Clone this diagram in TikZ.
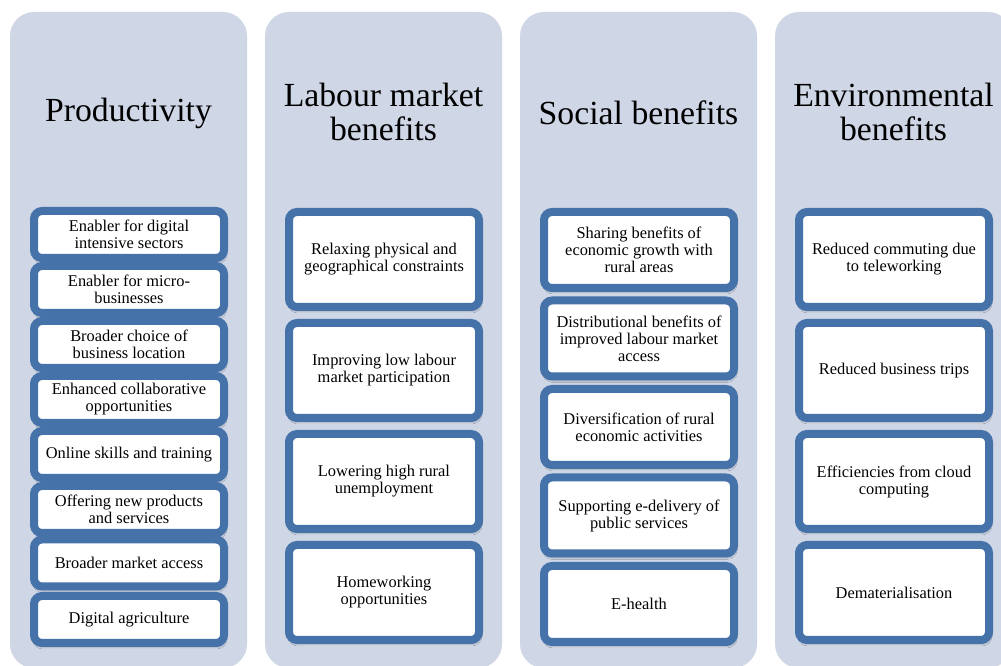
\documentclass[tikz,border=0pt]{standalone}
\usepackage{fontspec}
\setmainfont{Liberation Serif}
\usetikzlibrary{shadows.blur}
\definecolor{panelfill}{HTML}{CFD7E6}
\definecolor{boxedge}{HTML}{4672AA}
\begin{document}
\begin{tikzpicture}[x=0.75pt,y=-0.75pt,
  panel/.style={fill=panelfill, rounded corners=18pt},
  title/.style={align=center, inner sep=0pt, font=\fontsize{25.3}{25}\selectfont},
  item/.style={draw=boxedge, line width=6pt, fill=white, rounded corners=6pt,
    minimum width=142.5pt, align=center, inner sep=0pt,
    font=\fontsize{12.3}{12.75}\selectfont,
    blur shadow={shadow xshift=0.6pt, shadow yshift=-2.6pt, shadow opacity=40, shadow blur steps=6}},
  itemA/.style={item, minimum height=35.25pt},
  itemB/.style={item, minimum height=71.25pt},
  itemC/.style={item, minimum height=57pt}
]
\clip (0,0) rectangle (1001,666);
\fill[white] (0,0) rectangle (1001,666);

% column backgrounds
\fill[panel] (10,12) rectangle (247,668);
\fill[panel] (265,12) rectangle (502,668);
\fill[panel] (520,12) rectangle (757,668);
\fill[panel] (775,12) rectangle (1012,668);

% column headings
\node[title] (t1) at (128.5,113) {Productivity};
\node[title] (t2) at (383.5,112) {Labour market\\benefits};
\node[title] (t3) at (638.5,113) {Social benefits};
\node[title] (t4) at (893.5,112) {Environmental\\benefits};

% productivity
\node[itemA] (a1) at (129,234.5) {Enabler for digital\\intensive sectors};
\node[itemA] (a2) at (129,289.5) {Enabler for micro-\\businesses};
\node[itemA] (a3) at (129,344.5) {Broader choice of\\business location};
\node[itemA] (a4) at (129,399.5) {Enhanced collaborative\\opportunities};
\node[itemA] (a5) at (129,454.5) {Online skills and training};
\node[itemA] (a6) at (129,509.5) {Offering new products\\and services};
\node[itemA] (a7) at (129,563) {Broader market access};
\node[itemA] (a8) at (129,619.5) {Digital agriculture};

% labour market benefits
\node[itemB] (b1) at (384,259.5) {Relaxing physical and\\geographical constraints};
\node[itemB] (b2) at (384,370.5) {Improving low labour\\market participation};
\node[itemB] (b3) at (384,481.5) {Lowering high rural\\unemployment};
\node[itemB] (b4) at (384,592.5) {Homeworking\\opportunities};

% social benefits
\node[itemC] (c1) at (639,250) {Sharing benefits of\\economic growth with\\rural areas};
\node[itemC] (c2) at (639,338.5) {Distributional benefits of\\improved labour market\\access};
\node[itemC] (c3) at (639,427) {Diversification of rural\\economic activities};
\node[itemC] (c4) at (639,515.5) {Supporting e-delivery of\\public services};
\node[itemC] (c5) at (639,604) {E-health};

% environmental benefits
\node[itemB] (d1) at (894,259.5) {Reduced commuting due\\to teleworking};
\node[itemB] (d2) at (894,370.5) {Reduced business trips};
\node[itemB] (d3) at (894,481.5) {Efficiencies from cloud\\computing};
\node[itemB] (d4) at (894,592.5) {Dematerialisation};
\end{tikzpicture}
\end{document}
